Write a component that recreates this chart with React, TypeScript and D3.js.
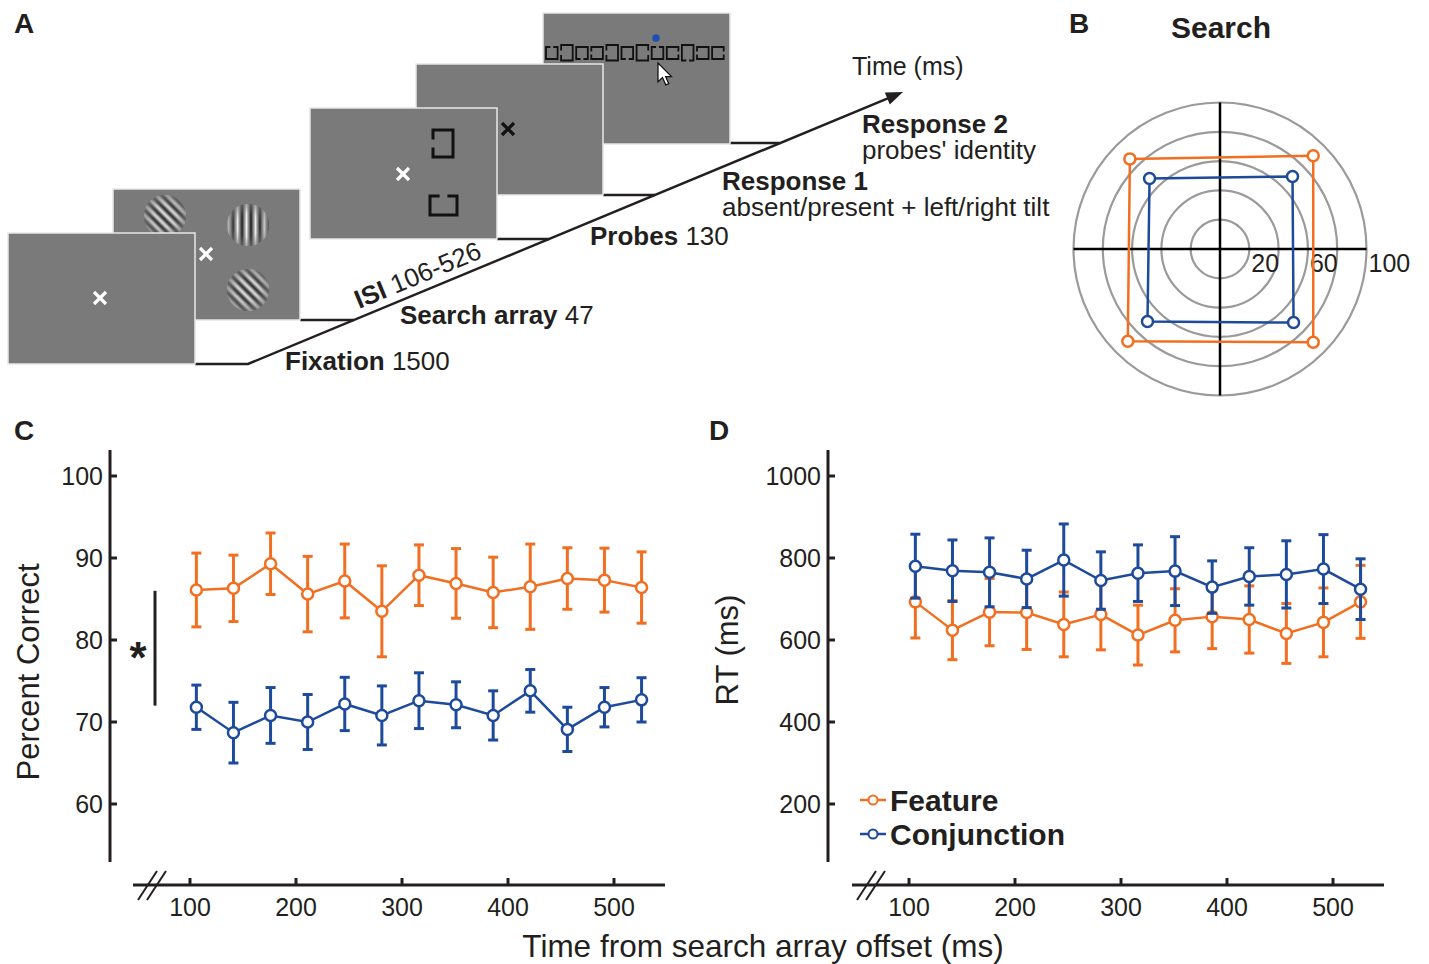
import React from 'react';
import * as d3 from 'd3';

// ---------- DATA ----------
const times = [106, 141, 176, 211, 246, 281, 316, 351, 386, 421, 456, 491, 526];
const accFeature = [86.1, 86.3, 89.3, 85.6, 87.2, 83.5, 87.9, 86.9, 85.8, 86.5, 87.5, 87.3, 86.4];
const accFeatureErr = [4.5, 4.05, 3.75, 4.6, 4.5, 5.55, 3.7, 4.25, 4.3, 5.2, 3.75, 3.9, 4.35];
const accConj = [71.8, 68.7, 70.8, 70.0, 72.2, 70.8, 72.6, 72.1, 70.8, 73.8, 69.1, 71.8, 72.7];
const accConjErr = [2.7, 3.7, 3.4, 3.35, 3.25, 3.6, 3.4, 2.8, 3.0, 2.6, 2.7, 2.4, 2.7];
const rtFeature = [693, 624, 668, 667, 638, 662, 612, 648, 657, 650, 616, 643, 693];
const rtFeatureErr = [88, 72, 82, 90, 79, 86, 73, 77, 78, 82, 73, 84, 89];
const rtConj = [780, 769, 765, 749, 795, 745, 763, 768, 729, 755, 760, 773, 724];
const rtConjErr = [78, 75, 84, 70, 88, 70, 69, 84, 64, 70, 82, 84, 74];
const accTicks = [60, 70, 80, 90, 100];
const rtTicks = [200, 400, 600, 800, 1000];
const timeTicks = [100, 200, 300, 400, 500];
const polarAngles = [45, 135, 225, 315];
const polarFeature = [90, 87, 89, 90];
const polarConj = [70, 68, 70, 71];
const polarRings = [20, 40, 60, 80, 100];
const polarLabels = [20, 60, 100];
const seriesNames = ['Feature', 'Conjunction'];
const probeSymbols = ['top', 'left', 'bottom', 'left', 'left', 'bottom', 'right', 'top', 'right', 'bottom', 'left', 'right'];
const probeTall = [false, true, false, false, true, false, true, false, false, true, false, false];

// ---------- STYLE ----------
const FONT = "'Liberation Sans', Arial, Helvetica, sans-serif";
const INK = '#231f20';
const ORANGE = '#f26f21';
const BLUE = '#1d4a9b';
const SCREEN = '#7a7a7a';
const GRID = '#9a9a9a';

type SeriesProps = { x: d3.ScaleLinear<number, number>; y: d3.ScaleLinear<number, number>; mean: number[]; err: number[]; color: string };

function Series({ x, y, mean, err, color }: SeriesProps) {
  const pts = times.map((t, i) => [x(t), y(mean[i])] as [number, number]);
  const line = d3.line()(pts) || '';
  return (
    <g>
      {times.map((t, i) => {
        const cx = x(t);
        const y1 = y(mean[i] + err[i]);
        const y2 = y(mean[i] - err[i]);
        return (
          <g key={i} stroke={color} strokeWidth={3}>
            <line x1={cx} x2={cx} y1={y1} y2={y2} />
            <line x1={cx - 5} x2={cx + 5} y1={y1} y2={y1} />
            <line x1={cx - 5} x2={cx + 5} y1={y2} y2={y2} />
          </g>
        );
      })}
      <path d={line} fill="none" stroke={color} strokeWidth={2.5} />
      {pts.map((p, i) => (
        <circle key={i} cx={p[0]} cy={p[1]} r={5.5} fill="#fff" stroke={color} strokeWidth={2.5} />
      ))}
    </g>
  );
}

type AxesProps = {
  x: d3.ScaleLinear<number, number>; y: d3.ScaleLinear<number, number>; yTicks: number[];
  yAxisX: number; yTop: number; yBottom: number; xAxisY: number; xLeft: number; xRight: number;
};

function Axes({ x, y, yTicks, yAxisX, yTop, yBottom, xAxisY, xLeft, xRight }: AxesProps) {
  return (
    <g stroke={INK} fill={INK}>
      <line x1={yAxisX} x2={yAxisX} y1={yTop} y2={yBottom} strokeWidth={3} />
      {yTicks.map((t) => (
        <g key={t}>
          <line x1={yAxisX} x2={yAxisX + 7} y1={y(t)} y2={y(t)} strokeWidth={3} />
          <text x={yAxisX - 7} y={y(t)} dy="0.35em" textAnchor="end" fontSize={25} stroke="none">{t}</text>
        </g>
      ))}
      <line x1={xLeft} x2={xRight} y1={xAxisY} y2={xAxisY} strokeWidth={3} />
      {timeTicks.map((t) => (
        <g key={t}>
          <line x1={x(t)} x2={x(t)} y1={xAxisY} y2={xAxisY - 7} strokeWidth={3} />
          <text x={x(t)} y={xAxisY + 31} textAnchor="middle" fontSize={25} stroke="none">{t}</text>
        </g>
      ))}
      <line x1={xLeft + 5} y1={xAxisY + 15} x2={xLeft + 24} y2={xAxisY - 14} strokeWidth={2} />
      <line x1={xLeft + 14} y1={xAxisY + 15} x2={xLeft + 33} y2={xAxisY - 14} strokeWidth={2} />
    </g>
  );
}

function Screen({ x, y, children }: { x: number; y: number; children?: React.ReactNode }) {
  return (
    <g transform={`translate(${x},${y})`}>
      <rect x={0} y={0} width={187} height={131} fill={SCREEN} stroke="#e8e8e8" strokeWidth={1.5} />
      {children}
    </g>
  );
}

function Cross({ x, y, color, s = 6 }: { x: number; y: number; color: string; s?: number }) {
  return (
    <g stroke={color} strokeWidth={3.2}>
      <line x1={x - s} y1={y - s} x2={x + s} y2={y + s} />
      <line x1={x - s} y1={y + s} x2={x + s} y2={y - s} />
    </g>
  );
}

function GapBox({ x, y, w, h, gap, sw = 3 }: { x: number; y: number; w: number; h: number; gap: string; sw?: number }) {
  const a = 0.3, b = 0.7;
  const top = gap === 'top' ? `M${x},${y}H${x + w * a}M${x + w * b},${y}H${x + w}` : `M${x},${y}H${x + w}`;
  const bottom = gap === 'bottom' ? `M${x},${y + h}H${x + w * a}M${x + w * b},${y + h}H${x + w}` : `M${x},${y + h}H${x + w}`;
  const left = gap === 'left' ? `M${x},${y}V${y + h * a}M${x},${y + h * b}V${y + h}` : `M${x},${y}V${y + h}`;
  const right = gap === 'right' ? `M${x + w},${y}V${y + h * a}M${x + w},${y + h * b}V${y + h}` : `M${x + w},${y}V${y + h}`;
  return <path d={top + bottom + left + right} fill="none" stroke="#111" strokeWidth={sw} strokeLinecap="square" />;
}

function Grating({ cx, cy, r, pat }: { cx: number; cy: number; r: number; pat: string }) {
  return (
    <g>
      <circle cx={cx} cy={cy} r={r} fill={`url(#${pat})`} />
      <circle cx={cx} cy={cy} r={r} fill="url(#gabor)" />
    </g>
  );
}

export default function App() {
  const xC = d3.scaleLinear().domain([100, 500]).range([190, 614]);
  const yC = d3.scaleLinear().domain([60, 100]).range([804, 476]);
  const xD = d3.scaleLinear().domain([100, 500]).range([909, 1333]);
  const yD = d3.scaleLinear().domain([200, 1000]).range([804, 476]);
  const pcx = 1220, pcy = 249;
  const rS = d3.scaleLinear().domain([0, 100]).range([0, 146.5]);
  const radial = d3.lineRadial<[number, number]>()
    .angle((d) => ((90 - d[0]) * Math.PI) / 180)
    .radius((d) => rS(d[1]))
    .curve(d3.curveLinearClosed);
  const polarPts = (vals: number[]) => polarAngles.map((a, i) => [a, vals[i]] as [number, number]);
  const polarXY = (a: number, v: number) => {
    const ang = (a * Math.PI) / 180;
    return [pcx + rS(v) * Math.cos(ang), pcy - rS(v) * Math.sin(ang)];
  };

  const t0 = [248, 364];
  const tip = [903, 92];
  const slope = (t0[1] - tip[1]) / (tip[0] - t0[0]);
  const diagX = (yy: number) => t0[0] + (t0[1] - yy) / slope;
  const ang = (Math.atan(slope) * 180) / Math.PI;
  const screenBottoms = [[300, 320], [497, 239], [603, 195], [729, 143]];

  const bold = { fontWeight: 700 as const };

  return (
    <svg width={1429} height={964} style={{ position: 'absolute', left: 0, top: 0, background: '#fff' }} fontFamily={FONT}>
      <defs>
        <linearGradient id="sine" x1="0" x2="1" y1="0" y2="0">
          <stop offset="0" stopColor="#1a1a1a" />
          <stop offset="0.5" stopColor="#f4f4f4" />
          <stop offset="1" stopColor="#1a1a1a" />
        </linearGradient>
        <pattern id="diag" patternUnits="userSpaceOnUse" width={7.5} height={7.5} patternTransform="rotate(-45)">
          <rect width={7.5} height={7.5} fill="url(#sine)" />
        </pattern>
        <pattern id="vert" patternUnits="userSpaceOnUse" width={9} height={9} x={3}>
          <rect width={9} height={9} fill="url(#sine)" />
        </pattern>
        <radialGradient id="gabor">
          <stop offset="0" stopColor={SCREEN} stopOpacity={0} />
          <stop offset="0.55" stopColor={SCREEN} stopOpacity={0.1} />
          <stop offset="1" stopColor={SCREEN} stopOpacity={0.65} />
        </radialGradient>
      </defs>

      <g fill={INK} fontSize={28} {...bold}>
        <text x={14} y={33}>A</text>
        <text x={1069} y={33}>B</text>
        <text x={14} y={440}>C</text>
        <text x={709} y={440}>D</text>
      </g>

      {/* ---------- Panel A ---------- */}
      <g stroke={INK} strokeWidth={2.5} fill="none">
        <polyline points={`195,364 ${t0[0]},${t0[1]} ${tip[0] - 8 * Math.cos((ang * Math.PI) / 180)},${tip[1] + 8 * Math.sin((ang * Math.PI) / 180)}`} />
        {screenBottoms.map((s, i) => (
          <line key={i} x1={s[0]} y1={s[1]} x2={diagX(s[1])} y2={s[1]} />
        ))}
      </g>
      <g transform={`translate(${tip[0]},${tip[1]}) rotate(${-ang})`}>
        <polygon points="0,0 -17,-6.5 -17,6.5" fill={INK} />
      </g>

      <Screen x={543} y={13}>
        {probeSymbols.map((g, i) => {
          const tall = probeTall[i];
          return <GapBox key={i} x={3 + i * 15.1} y={tall ? 32 : 34} w={11.6} h={tall ? 15.5 : 12} gap={g} sw={1.8} />;
        })}
        <circle cx={113} cy={25} r={3.7} fill="#1a4fb5" />
        <g transform="translate(115,50) scale(1.25)">
          <polygon points="0,0 0,15 3.6,11.6 6.2,17.5 8.6,16.5 6.1,10.8 10.8,10.8" fill="#fff" stroke="#111" strokeWidth={1} />
        </g>
      </Screen>
      <Screen x={416} y={64}>
        <Cross x={92} y={65} color="#111" />
      </Screen>
      <Screen x={310} y={108}>
        <Cross x={93} y={66} color="#fff" />
        <GapBox x={123} y={22} w={20} h={27} gap="left" />
        <GapBox x={120} y={88} w={27} h={19} gap="top" />
      </Screen>
      <Screen x={113} y={189}>
        <Grating cx={52} cy={27} r={21} pat="diag" />
        <Grating cx={135} cy={36} r={21} pat="vert" />
        <Grating cx={135} cy={101} r={21} pat="diag" />
        <Cross x={93} y={65} color="#fff" />
      </Screen>
      <Screen x={8} y={233}>
        <Cross x={92} y={65} color="#fff" />
      </Screen>

      <g fill={INK} fontSize={26}>
        <text x={852} y={75} fontSize={25}>Time (ms)</text>
        <text x={862} y={133} {...bold}>Response 2</text>
        <text x={862} y={159}>probes' identity</text>
        <text x={722} y={190} {...bold}>Response 1</text>
        <text x={722} y={216}>absent/present + left/right tilt</text>
        <text x={590} y={245}><tspan {...bold}>Probes</tspan> 130</text>
        <text x={400} y={324}><tspan {...bold}>Search array</tspan> 47</text>
        <text x={285} y={370}><tspan {...bold}>Fixation</tspan> 1500</text>
        <text transform={`translate(359,309) rotate(${-ang})`}><tspan {...bold}>ISI</tspan> 106-526</text>
      </g>

      {/* ---------- Panel B ---------- */}
      <text x={1221} y={38} textAnchor="middle" fontSize={30} fill={INK} {...bold}>Search</text>
      <g fill="none" stroke={GRID} strokeWidth={2.2}>
        {polarRings.map((v) => (
          <circle key={v} cx={pcx} cy={pcy} r={rS(v)} />
        ))}
      </g>
      <g stroke="#000" strokeWidth={2.5}>
        <line x1={pcx - rS(100)} x2={pcx + rS(100)} y1={pcy} y2={pcy} />
        <line x1={pcx} x2={pcx} y1={pcy - rS(100)} y2={pcy + rS(100)} />
      </g>
      <g fill={INK} fontSize={25}>
        {polarLabels.map((v) => (
          <text key={v} x={pcx + rS(v) + 2} y={pcy + 23}>{v}</text>
        ))}
      </g>
      {[
        { vals: polarFeature, color: ORANGE },
        { vals: polarConj, color: BLUE },
      ].map((s, k) => (
        <g key={k}>
          <path d={radial(polarPts(s.vals)) || ''} transform={`translate(${pcx},${pcy})`} fill="none" stroke={s.color} strokeWidth={2.5} />
          {polarAngles.map((a, i) => {
            const [px, py] = polarXY(a, s.vals[i]);
            return <circle key={i} cx={px} cy={py} r={5.5} fill="#fff" stroke={s.color} strokeWidth={2.5} />;
          })}
        </g>
      ))}

      {/* ---------- Panel C ---------- */}
      <Axes x={xC} y={yC} yTicks={accTicks} yAxisX={110} yTop={450} yBottom={862} xAxisY={885} xLeft={133} xRight={665} />
      <text transform="translate(39,672) rotate(-90)" textAnchor="middle" fontSize={31} fill={INK}>Percent Correct</text>
      <line x1={155} x2={155} y1={yC(86)} y2={yC(72)} stroke={INK} strokeWidth={3} />
      <text x={138} y={673} textAnchor="middle" fontSize={44} fill={INK} {...bold}>*</text>
      <Series x={xC} y={yC} mean={accFeature} err={accFeatureErr} color={ORANGE} />
      <Series x={xC} y={yC} mean={accConj} err={accConjErr} color={BLUE} />

      {/* ---------- Panel D ---------- */}
      <Axes x={xD} y={yD} yTicks={rtTicks} yAxisX={828} yTop={450} yBottom={862} xAxisY={885} xLeft={852} xRight={1384} />
      <text transform="translate(738,650) rotate(-90)" textAnchor="middle" fontSize={31} fill={INK}>RT (ms)</text>
      <Series x={xD} y={yD} mean={rtFeature} err={rtFeatureErr} color={ORANGE} />
      <Series x={xD} y={yD} mean={rtConj} err={rtConjErr} color={BLUE} />

      {seriesNames.map((name, i) => {
        const ly = 800 + i * 34;
        const c = i === 0 ? ORANGE : BLUE;
        return (
          <g key={name}>
            <line x1={860} x2={886} y1={ly} y2={ly} stroke={c} strokeWidth={2.5} />
            <circle cx={873} cy={ly} r={4.5} fill="#fff" stroke={c} strokeWidth={2} />
            <text x={890} y={ly + 11} fontSize={30} fill={INK} {...bold}>{name}</text>
          </g>
        );
      })}

      <text x={763} y={957} textAnchor="middle" fontSize={31.5} fill={INK}>Time from search array offset (ms)</text>
    </svg>
  );
}
